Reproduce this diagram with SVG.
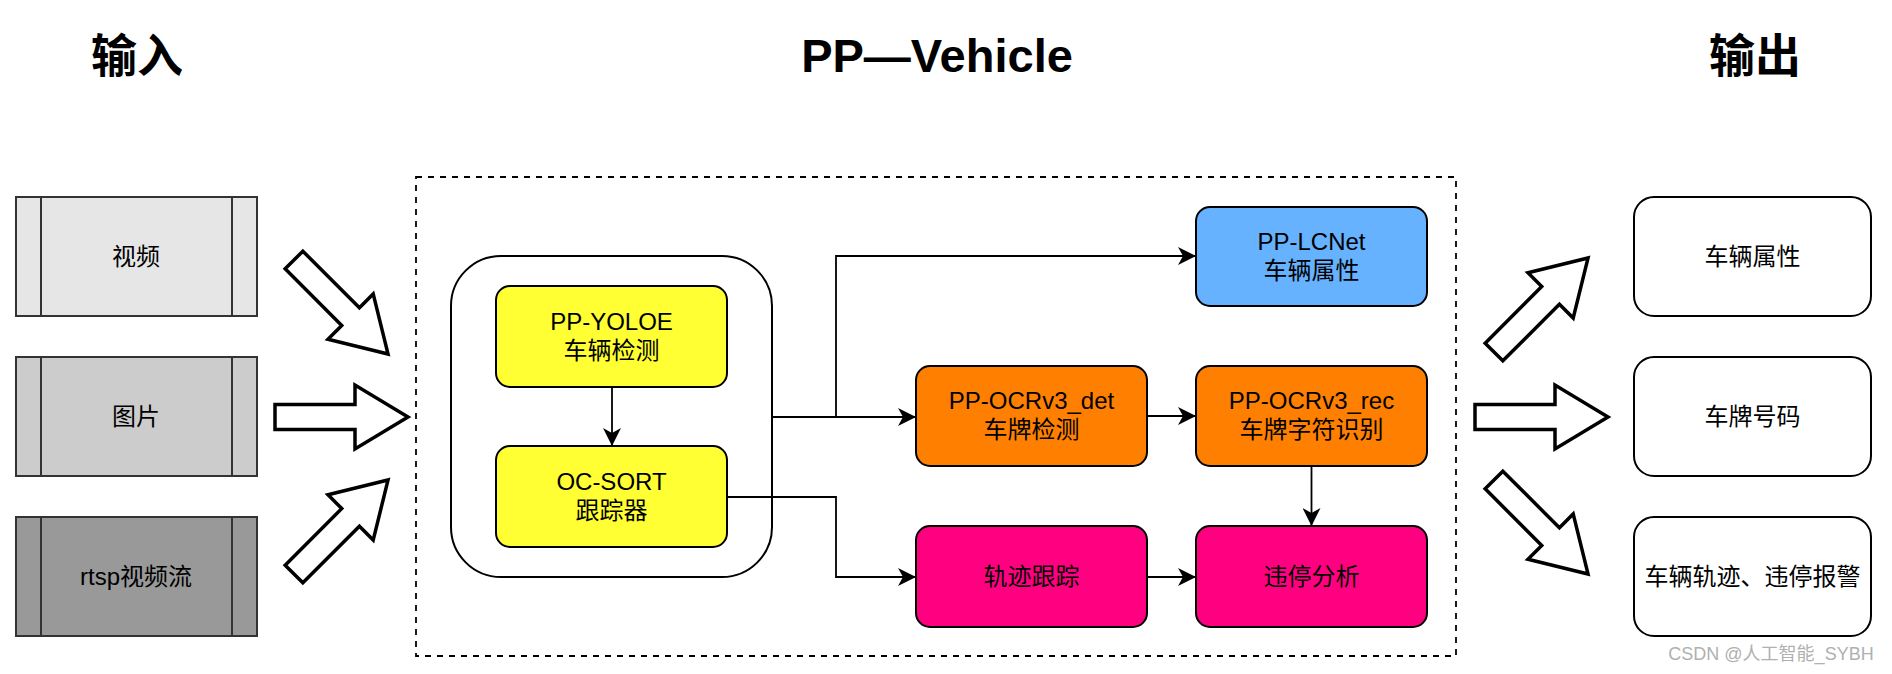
<svg xmlns="http://www.w3.org/2000/svg" width="1892" height="674" viewBox="0 0 1892 674">
<style>
text{font-family:"Liberation Sans","Noto Sans CJK SC",sans-serif;fill:#000;text-anchor:middle}
.title{font-size:46px;font-weight:bold}
.t{font-size:24px}
.in{stroke:#333;stroke-width:2}
.node{stroke:#000;stroke-width:2}
.out{fill:#fff;stroke:#000;stroke-width:2}
.conn{fill:none;stroke:#000;stroke-width:1.8}
.big{fill:#fff;stroke:#000;stroke-width:3.5;stroke-linejoin:miter}
</style>
<defs>
<marker id="ah" markerUnits="userSpaceOnUse" markerWidth="20" markerHeight="18" viewBox="0 0 20 18" refX="18" refY="9" orient="auto">
<path d="M0,0 L18,9 L0,18 L5,9 Z" fill="#000"/>
</marker>
<polygon id="blk" points="0,-12.5 80,-12.5 80,-32 133,0 80,32 80,12.5 0,12.5"/>
</defs>
<rect width="1892" height="674" fill="#fff"/>
<text class="title" x="137" y="72">输入</text>
<text class="title" x="937" y="72" style="font-size:47px">PP—Vehicle</text>
<text class="title" x="1755" y="72">输出</text>

<g id="in-video">
<rect class="in" x="16" y="197" width="241" height="119" fill="#E6E6E6"/>
<line class="in" x1="41" y1="197" x2="41" y2="316"/><line class="in" x1="232" y1="197" x2="232" y2="316"/>
<text class="t" x="136" y="265">视频</text>
</g>
<g id="in-image">
<rect class="in" x="16" y="357" width="241" height="119" fill="#CCCCCC"/>
<line class="in" x1="41" y1="357" x2="41" y2="476"/><line class="in" x1="232" y1="357" x2="232" y2="476"/>
<text class="t" x="136" y="425">图片</text>
</g>
<g id="in-rtsp">
<rect class="in" x="16" y="517" width="241" height="119" fill="#999999"/>
<line class="in" x1="41" y1="517" x2="41" y2="636"/><line class="in" x1="232" y1="517" x2="232" y2="636"/>
<text class="t" x="136" y="585">rtsp视频流</text>
</g>

<g id="big-arrows">
<use href="#blk" class="big" transform="translate(294,260) rotate(45)"/>
<use href="#blk" class="big" transform="translate(275,417)"/>
<use href="#blk" class="big" transform="translate(294,574) rotate(-45)"/>
<use href="#blk" class="big" transform="translate(1494,352) rotate(-45)"/>
<use href="#blk" class="big" transform="translate(1475,417)"/>
<use href="#blk" class="big" transform="translate(1494,480) rotate(45)"/>
</g>

<g id="pp-vehicle">
<rect x="416" y="177" width="1040" height="479" fill="none" stroke="#000" stroke-width="1.8" stroke-dasharray="6 6"/>
</g>
<g id="det-track-group">
<rect x="451" y="256" width="321" height="321" rx="50" fill="#fff" stroke="#000" stroke-width="2"/>
</g>
<g id="ppyoloe">
<rect class="node" x="496" y="286" width="231" height="101" rx="14" fill="#FFFF33"/>
<text class="t" x="611.5" y="330">PP-YOLOE</text>
<text class="t" x="611.5" y="359">车辆检测</text>
</g>
<g id="ocsort">
<rect class="node" x="496" y="446" width="231" height="101" rx="14" fill="#FFFF33"/>
<text class="t" x="611.5" y="490">OC-SORT</text>
<text class="t" x="611.5" y="519">跟踪器</text>
</g>
<g id="pplcnet">
<rect class="node" x="1196" y="207" width="231" height="99" rx="14" fill="#66B2FF"/>
<text class="t" x="1311.5" y="250">PP-LCNet</text>
<text class="t" x="1311.5" y="279">车辆属性</text>
</g>
<g id="ocr-det">
<rect class="node" x="916" y="366" width="231" height="100" rx="14" fill="#FF8000"/>
<text class="t" x="1031.5" y="409">PP-OCRv3_det</text>
<text class="t" x="1031.5" y="438">车牌检测</text>
</g>
<g id="ocr-rec">
<rect class="node" x="1196" y="366" width="231" height="100" rx="14" fill="#FF8000"/>
<text class="t" x="1311.5" y="409">PP-OCRv3_rec</text>
<text class="t" x="1311.5" y="438">车牌字符识别</text>
</g>
<g id="trajectory">
<rect class="node" x="916" y="526" width="231" height="101" rx="14" fill="#FF0080"/>
<text class="t" x="1031.5" y="585">轨迹跟踪</text>
</g>
<g id="parking">
<rect class="node" x="1196" y="526" width="231" height="101" rx="14" fill="#FF0080"/>
<text class="t" x="1311.5" y="585">违停分析</text>
</g>

<g id="connectors">
<path class="conn" d="M612,387 V446" marker-end="url(#ah)"/>
<path class="conn" d="M772,417 H836 V256 H1196" marker-end="url(#ah)"/>
<path class="conn" d="M772,417 H916" marker-end="url(#ah)"/>
<path class="conn" d="M1147,416 H1196" marker-end="url(#ah)"/>
<path class="conn" d="M1311.5,466 V526" marker-end="url(#ah)"/>
<path class="conn" d="M727,497 H836 V577 H916" marker-end="url(#ah)"/>
<path class="conn" d="M1147,577 H1196" marker-end="url(#ah)"/>
</g>

<g id="out-attr">
<rect class="out" x="1634" y="197" width="237" height="119" rx="20"/>
<text class="t" x="1752.5" y="265">车辆属性</text>
</g>
<g id="out-plate">
<rect class="out" x="1634" y="357" width="237" height="119" rx="20"/>
<text class="t" x="1752.5" y="425">车牌号码</text>
</g>
<g id="out-alarm">
<rect class="out" x="1634" y="517" width="237" height="119" rx="20"/>
<text class="t" x="1752.5" y="585">车辆轨迹、违停报警</text>
</g>
<text x="1771" y="660" style="font-size:18px;fill:#b0b0b0">CSDN @人工智能_SYBH</text>
</svg>
